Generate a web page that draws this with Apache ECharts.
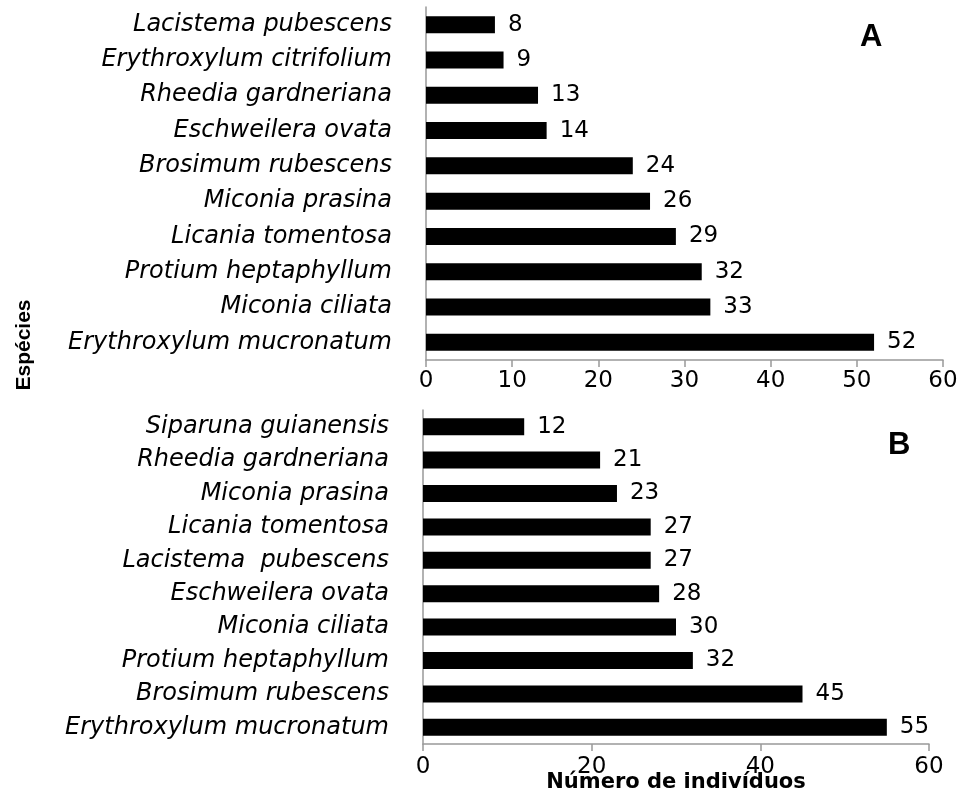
<!DOCTYPE html>
<html>
<head>
<meta charset="utf-8">
<script src="https://cdn.jsdelivr.net/npm/echarts@6/dist/echarts.min.js"></script>
<style>html,body{margin:0;padding:0;background:#fff;}#c{width:960px;height:795px;}</style>
</head>
<body>
<div id="c"></div>
<script>
// Panel A
const speciesA = ['Lacistema pubescens','Erythroxylum citrifolium','Rheedia gardneriana','Eschweilera ovata','Brosimum rubescens','Miconia prasina','Licania tomentosa','Protium heptaphyllum','Miconia ciliata','Erythroxylum mucronatum'];
const valuesA = [8, 9, 13, 14, 24, 26, 29, 32, 33, 52];
const ticksA = {min: 0, max: 60, interval: 10};
// Panel B
const speciesB = ['Siparuna guianensis','Rheedia gardneriana','Miconia prasina','Licania tomentosa','Lacistema  pubescens','Eschweilera ovata','Miconia ciliata','Protium heptaphyllum','Brosimum rubescens','Erythroxylum mucronatum'];
const valuesB = [12, 21, 23, 27, 27, 28, 30, 32, 45, 55];
const ticksB = {min: 0, max: 60, interval: 20};

const FONT = 'DejaVu Sans';
const axisGray = '#999999';

function xAxisCfg(gi, t, margin, extra) {
  return Object.assign({
    type: 'value', gridIndex: gi, min: t.min, max: t.max, interval: t.interval,
    axisLine: {show: true, lineStyle: {color: axisGray, width: 1.5}},
    axisTick: {show: true, length: 7, lineStyle: {color: axisGray, width: 1.5}},
    splitLine: {show: false},
    axisLabel: {color: '#000', fontFamily: FONT, fontSize: 23, margin: margin}
  }, extra || {});
}
function yAxisCfg(gi, cats) {
  return {
    type: 'category', gridIndex: gi, data: cats, inverse: true,
    axisLine: {show: true, lineStyle: {color: axisGray, width: 1.5}},
    axisTick: {show: false},
    axisLabel: {color: '#000', fontFamily: FONT, fontStyle: 'italic', fontSize: 24, margin: 34}
  };
}
function seriesCfg(gi, vals) {
  return {
    type: 'bar', xAxisIndex: gi, yAxisIndex: gi, data: vals, barWidth: 17,
    itemStyle: {color: '#000'},
    label: {show: true, position: 'right', distance: 13, color: '#000', fontFamily: FONT, fontSize: 23},
    silent: true
  };
}

const chart = echarts.init(document.getElementById('c'), null, {renderer: 'canvas'});
chart.setOption({
  animation: false,
  backgroundColor: '#fff',
  grid: [
    {left: 426, top: 7, width: 517, height: 353, containLabel: false, outerBoundsMode: 'none'},
    {left: 423, top: 410, width: 506, height: 334, containLabel: false, outerBoundsMode: 'none'}
  ],
  xAxis: [
    xAxisCfg(0, ticksA, 10),
    xAxisCfg(1, ticksB, 12, {
      name: 'Número de indivíduos', nameLocation: 'middle', nameGap: 28, nameMoveOverlap: false,
      nameTextStyle: {color: '#000', fontFamily: FONT, fontWeight: 'bold', fontSize: 21}
    })
  ],
  yAxis: [yAxisCfg(0, speciesA), yAxisCfg(1, speciesB)],
  series: [seriesCfg(0, valuesA), seriesCfg(1, valuesB)],
  graphic: [
    {type: 'text', left: 860, top: 22, style: {text: 'A', font: 'bold 31px "Liberation Sans"', fill: '#000'}},
    {type: 'text', left: 888, top: 430, style: {text: 'B', font: 'bold 31px "Liberation Sans"', fill: '#000'}},
    {type: 'text', x: 24, y: 345, rotation: Math.PI / 2,
     style: {text: 'Espécies', font: 'bold 21px "Liberation Sans Narrow", "Liberation Sans"', fill: '#000', align: 'center', verticalAlign: 'middle'}}
  ]
});
</script>
</body>
</html>
